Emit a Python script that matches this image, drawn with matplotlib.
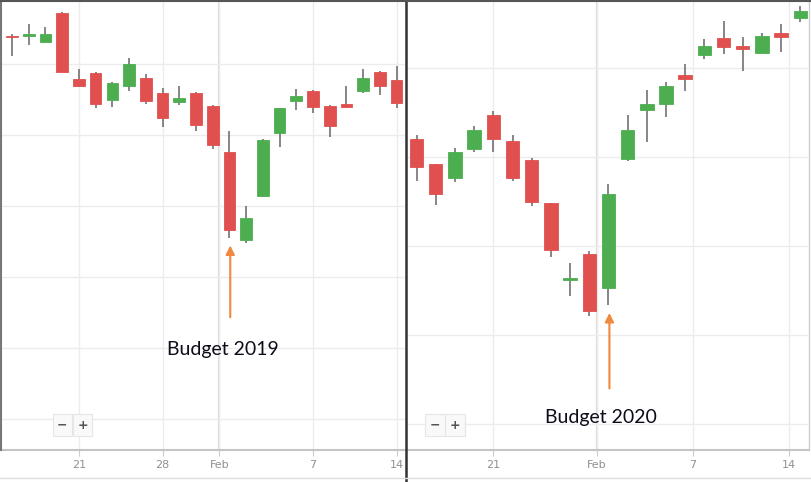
import matplotlib
matplotlib.use('Agg')
import matplotlib.pyplot as plt
from matplotlib.ticker import MultipleLocator
from matplotlib.lines import Line2D

# ---- 2019 (left panel), one entry per trading day ----
open_2019 = [10939, 10939, 10931, 10972, 10879, 10887, 10849, 10869, 10880, 10859, 10846, 10859,
             10841, 10776, 10652, 10714, 10803, 10848, 10862, 10841, 10844, 10861, 10889, 10877]
high_2019 = [10942, 10956, 10952, 10973, 10892, 10889, 10875, 10908, 10886, 10866, 10868, 10860,
             10842, 10806, 10700, 10794, 10838, 10865, 10863, 10842, 10868, 10893, 10890, 10897]
low_2019 = [10911, 10927, 10930, 10888, 10867, 10837, 10839, 10861, 10844, 10811, 10842, 10806,
            10780, 10655, 10648, 10713, 10783, 10835, 10831, 10797, 10838, 10859, 10856, 10838]
close_2019 = [10937, 10942, 10942, 10889, 10868, 10844, 10873, 10900, 10848, 10823, 10852, 10814,
              10785, 10666, 10683, 10792, 10837, 10855, 10839, 10813, 10839, 10880, 10869, 10845]
ticks_2019 = [4, 9, 12.4, 18, 23]
ticklabels_2019 = ['21', '28', 'Feb', '7', '14']
budget_2019 = 13

# ---- 2020 (right panel) ----
open_2020 = [12120, 12092, 12076, 12109, 12147, 12118, 12097, 12048, 11962, 11991, 11953,
             12098, 12153, 12160, 12192, 12215, 12234, 12225, 12217, 12239, 12256]
high_2020 = [12125, 12092, 12110, 12135, 12152, 12125, 12099, 12048, 11981, 11994, 12070,
             12147, 12175, 12184, 12204, 12233, 12253, 12235, 12239, 12249, 12270]
low_2020 = [12073, 12046, 12072, 12106, 12106, 12073, 12045, 11988, 11944, 11921, 11934,
            12096, 12117, 12145, 12174, 12210, 12216, 12197, 12216, 12218, 12251]
close_2020 = [12089, 12058, 12106, 12130, 12120, 12076, 12049, 11996, 11964, 11927, 12058,
              12130, 12160, 12180, 12187, 12225, 12224, 12221, 12236, 12235, 12264]
ticks_2020 = [4, 9.4, 14.4, 19.4]
ticklabels_2020 = ['21', 'Feb', '7', '14']
budget_2020 = 10

UP = '#4cae4f'
DOWN = '#e0504e'
WICK = '#666666'
ARROW = '#f0883e'
GRID = '#ececec'


def candles(ax, o, h, l, c, width=0.7):
    x = list(range(len(o)))
    ax.vlines(x, l, h, color=WICK, lw=1.1, zorder=2)
    cols = [UP if cc >= oo else DOWN for oo, cc in zip(o, c)]
    bottoms = [min(oo, cc) for oo, cc in zip(o, c)]
    heights = [max(abs(cc - oo), 1.5) for oo, cc in zip(o, c)]
    ax.bar(x, heights, bottom=bottoms, width=width, color=cols,
           edgecolor=cols, lw=0.6, zorder=3)


def style(ax, ticks, labels, month_tick):
    ax.set_xticks(ticks)
    ax.set_xticklabels(labels)
    ax.yaxis.set_major_locator(MultipleLocator(100))
    ax.set_yticklabels([])
    ax.tick_params(axis='y', length=0)
    ax.tick_params(axis='x', length=4, color='#cccccc', labelcolor='#909090',
                   labelsize=8, pad=3)
    ax.grid(True, color=GRID, lw=1, zorder=0)
    ax.set_axisbelow(True)
    # month boundary gridline a bit darker
    ax.axvline(ticks[month_tick], color='#dddddd', lw=1.6, zorder=0.5)
    for s in ax.spines.values():
        s.set_visible(False)
    ax.spines['bottom'].set_visible(True)
    ax.spines['bottom'].set_color('#c4c4c4')
    ax.spines['bottom'].set_linewidth(1.5)


def zoom_buttons(ax, x0):
    for dx, sym in [(0.0, '\u2212'), (0.05, '+')]:
        ax.text(x0 + dx, 0.055, sym, transform=ax.transAxes, ha='center', va='center',
                fontsize=9, color='#555555', fontweight='bold',
                bbox=dict(boxstyle='square,pad=0.35', fc='#f9f9f9', ec='#e6e6e6', lw=0.8))


fig = plt.figure(figsize=(8.12, 4.82), dpi=100)
fig.patch.set_facecolor('white')

ax1 = fig.add_axes([2 / 812, 32 / 482, 403 / 812, 448 / 482])
candles(ax1, open_2019, high_2019, low_2019, close_2019)
ax1.set_xlim(-0.6, 23.5)
ax1.set_ylim(10356, 10987)
style(ax1, ticks_2019, ticklabels_2019, 2)
zoom_buttons(ax1, 0.15)

ax2 = fig.add_axes([407 / 812, 32 / 482, 401 / 812, 448 / 482])
candles(ax2, open_2020, high_2020, low_2020, close_2020)
ax2.set_xlim(-0.5, 20.4)
ax2.set_ylim(11771, 12274)
style(ax2, ticks_2020, ticklabels_2020, 1)
zoom_buttons(ax2, 0.07)

# budget annotations
tip1 = low_2019[budget_2019] - 7
ax1.annotate('', xy=(budget_2019 + 0.05, tip1), xytext=(budget_2019 + 0.05, 10539),
             arrowprops=dict(arrowstyle='-|>', color=ARROW, lw=1.5, mutation_scale=13))
ax1.text(12.6, 10497, 'Budget 2019', ha='center', va='center', fontsize=14,
         family='Lato', color='#0d0d1a')

tip2 = low_2020[budget_2020] - 6
ax2.annotate('', xy=(budget_2020 + 0.05, tip2), xytext=(budget_2020 + 0.05, 11837),
             arrowprops=dict(arrowstyle='-|>', color=ARROW, lw=1.5, mutation_scale=13))
ax2.text(9.6, 11808, 'Budget 2020', ha='center', va='center', fontsize=14,
         family='Lato', color='#0d0d1a')

# screenshot borders
fig.add_artist(Line2D([406 / 812, 406 / 812], [0, 1], color='#333333', lw=1.8))
fig.add_artist(Line2D([1 / 812, 1 / 812], [32 / 482, 1], color='#777777', lw=1.5))
fig.add_artist(Line2D([809 / 812, 809 / 812], [32 / 482, 1], color='#cccccc', lw=1.0))
fig.add_artist(Line2D([0, 1], [1 - 1 / 482, 1 - 1 / 482], color='#555555', lw=1.5))
fig.add_artist(Line2D([0, 1], [4 / 482, 4 / 482], color='#dddddd', lw=1.0))

fig.savefig('out.png', dpi=100)
